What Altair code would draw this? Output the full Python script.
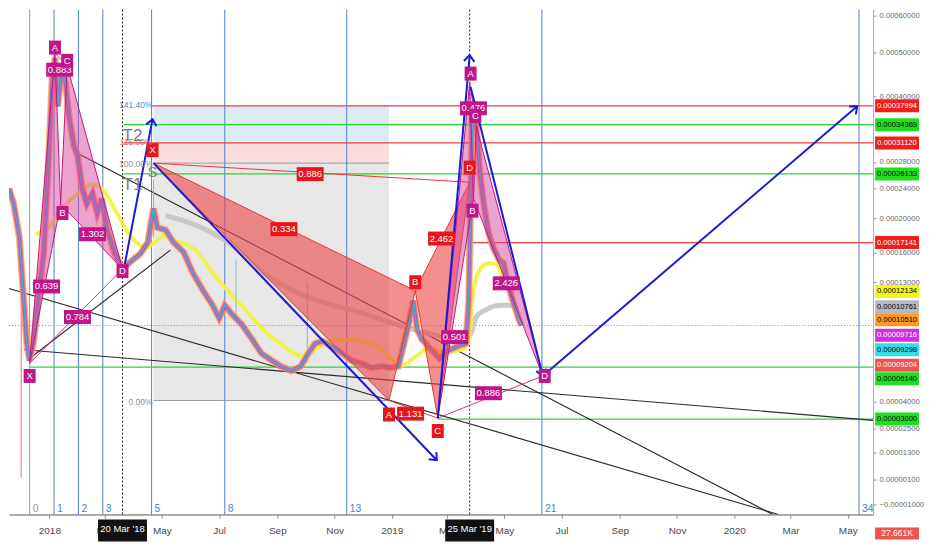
import altair as alt
import pandas as pd

W, H = 866, 506
FONT = "Liberation Sans"

# ---------------- price path (read from candles) ----------------
price_dates = ["2017-11-19","2017-11-24","2017-11-30","2017-12-04","2017-12-08","2017-12-11","2017-12-15","2017-12-20","2017-12-26","2017-12-31",
               "2018-01-04","2018-01-07","2018-01-10","2018-01-14","2018-01-18","2018-01-22","2018-01-27","2018-01-31","2018-02-05","2018-02-10",
               "2018-02-16","2018-02-21","2018-02-26","2018-03-03","2018-03-11","2018-03-20","2018-03-29","2018-04-08","2018-04-16","2018-04-22",
               "2018-04-26","2018-05-05","2018-05-13","2018-05-24","2018-06-03","2018-06-14","2018-06-24","2018-07-01","2018-07-07","2018-07-15",
               "2018-07-25","2018-08-05","2018-08-15","2018-08-26","2018-09-05","2018-09-16","2018-09-26","2018-10-04","2018-10-11","2018-10-19",
               "2018-10-29","2018-11-09","2018-11-19","2018-11-30","2018-12-10","2018-12-21","2018-12-31","2019-01-08","2019-01-14","2019-01-20",
               "2019-01-24","2019-01-28","2019-02-02","2019-02-11","2019-02-21","2019-03-02","2019-03-12","2019-03-21","2019-03-24","2019-03-26",
               "2019-03-28","2019-03-30","2019-04-02","2019-04-05","2019-04-09","2019-04-14","2019-04-19","2019-04-25","2019-04-30","2019-05-05",
               "2019-05-10","2019-05-16","2019-05-19"]
price_vals = [2.40e-4,2.19e-4,1.78e-4,1.22e-4,0.778e-4,0.66e-4,0.78e-4,1.13e-4,1.61e-4,2.75e-4,
              4.40e-4,4.86e-4,3.79e-4,4.51e-4,4.30e-4,3.60e-4,3.07e-4,2.91e-4,2.40e-4,2.19e-4,
              2.33e-4,2.07e-4,2.26e-4,1.89e-4,1.61e-4,1.43e-4,1.51e-4,1.59e-4,1.72e-4,2.13e-4,
              1.89e-4,1.86e-4,1.72e-4,1.61e-4,1.39e-4,1.22e-4,1.09e-4,0.98e-4,1.09e-4,1.01e-4,
              0.93e-4,0.815e-4,0.71e-4,0.66e-4,0.62e-4,0.59e-4,0.62e-4,0.71e-4,0.78e-4,0.80e-4,
              0.76e-4,0.71e-4,0.66e-4,0.64e-4,0.61e-4,0.62e-4,0.61e-4,0.62e-4,0.78e-4,0.967e-4,
              1.13e-4,0.889e-4,0.815e-4,0.743e-4,0.674e-4,0.73e-4,0.76e-4,0.78e-4,1.13e-4,2.19e-4,
              3.60e-4,3.89e-4,3.24e-4,2.61e-4,2.19e-4,1.83e-4,1.66e-4,1.53e-4,1.49e-4,1.27e-4,
              1.13e-4,0.98e-4,0.92e-4]

wick_dates = ["2017-12-02","2018-04-22","2018-07-19","2018-10-03"]
wick_high = [1.31e-4, 2.53e-4, 1.53e-4, 1.30e-4]
wick_low = [0.018e-4, 1.78e-4, 0.96e-4, 0.68e-4]
wick_color = ["#f06a6a", "#7fbfb0", "#7fbfb0", "#7fbfb0"]

# ---------------- moving averages ----------------
yellow_dates = ["2017-12-17","2017-12-31","2018-01-15","2018-01-31","2018-02-16","2018-02-26","2018-03-14","2018-03-29","2018-04-14","2018-04-24",
                "2018-05-05","2018-05-15","2018-06-05","2018-06-23","2018-07-07","2018-07-27","2018-08-17","2018-09-07","2018-09-25","2018-10-12",
                "2018-10-22","2018-11-09","2018-12-07","2018-12-26","2019-01-10","2019-01-28","2019-02-08","2019-03-01","2019-03-19","2019-03-25",
                "2019-03-28","2019-04-04","2019-04-14","2019-04-22","2019-04-28","2019-05-05"]
yellow_vals = [1.81e-4,1.89e-4,2.13e-4,2.33e-4,2.46e-4,2.40e-4,2.07e-4,1.78e-4,1.66e-4,1.72e-4,
               1.80e-4,1.74e-4,1.64e-4,1.41e-4,1.25e-4,1.07e-4,0.889e-4,0.765e-4,0.695e-4,0.743e-4,
               0.79e-4,0.815e-4,0.79e-4,0.708e-4,0.62e-4,0.695e-4,0.743e-4,0.72e-4,0.743e-4,0.837e-4,
               1.16e-4,1.41e-4,1.49e-4,1.48e-4,1.38e-4,1.22e-4]
gray_dates = ["2018-05-05","2018-06-16","2018-07-14","2018-08-14","2018-09-18","2018-10-22","2018-11-27","2018-12-31","2019-02-04","2019-03-14",
              "2019-03-25","2019-04-01","2019-04-11","2019-04-28","2019-05-13"]
gray_vals = [2.04e-4,1.87e-4,1.69e-4,1.41e-4,1.22e-4,1.11e-4,1.03e-4,0.943e-4,0.867e-4,0.815e-4,
             0.837e-4,0.99e-4,1.05e-4,1.09e-4,1.09e-4]

# ---------------- harmonic patterns (X, A, B, C, D) ----------------
p1_dates = ["2017-12-11","2018-01-07","2018-01-13","2018-01-20","2018-03-20"]
p1_vals = [0.641e-4, 4.98e-4, 2.19e-4, 4.67e-4, 1.43e-4]
p2_dates = ["2018-04-22","2018-12-29","2019-01-26","2019-02-19","2019-03-25"]
p2_vals = [2.78e-4, 0.405e-4, 1.22e-4, 0.305e-4, 2.49e-4]
p3_dates = ["2019-02-19","2019-03-25","2019-03-29","2019-04-01","2019-06-11"]
p3_vals = [0.305e-4, 4.30e-4, 2.26e-4, 3.41e-4, 0.556e-4]

p1_letters = ["X","A","B","C","D"]
p1_letter_dates = ["2017-12-11","2018-01-07","2018-01-15","2018-01-20","2018-03-20"]
p1_letter_vals = [0.556e-4, 5.12e-4, 2.07e-4, 4.79e-4, 1.41e-4]
p1_ratios = ["0.883","0.639","1.302","0.784"]
p1_ratio_dates = ["2018-01-12","2017-12-29","2018-02-16","2018-01-31"]
p1_ratio_vals = [4.58e-4, 1.26e-4, 1.81e-4, 0.99e-4]

p2_letters = ["X","A","B","C","D"]
p2_letter_dates = ["2018-04-21","2018-12-29","2019-01-26","2019-02-19","2019-03-25"]
p2_letter_vals = [2.99e-4, 0.325e-4, 1.30e-4, 0.237e-4, 2.71e-4]
p2_ratios = ["0.334","0.886","2.462","1.131"]
p2_ratio_dates = ["2018-09-08","2018-10-06","2019-02-23","2019-01-21"]
p2_ratio_vals = [1.87e-4, 2.61e-4, 1.76e-4, 0.33e-4]

p3_letters = ["A","B","C","D"]
p3_letter_dates = ["2019-03-26","2019-03-28","2019-03-31","2019-06-13"]
p3_letter_vals = [4.49e-4, 2.10e-4, 3.60e-4, 0.556e-4]
p3_ratios = ["0.476","2.426","0.501","0.886"]
p3_ratio_dates = ["2019-03-29","2019-05-03","2019-03-09","2019-04-14"]
p3_ratio_vals = [3.75e-4, 1.29e-4, 0.83e-4, 0.448e-4]

# ---------------- projection lines ----------------
blue_start_dates = ["2018-03-20","2018-04-22","2019-02-19","2019-03-26","2019-06-11"]
blue_start_vals = [1.36e-4, 2.78e-4, 0.305e-4, 4.19e-4, 0.556e-4]
blue_end_dates = ["2018-04-21","2019-02-18","2019-03-25","2019-06-11","2020-05-11"]
blue_end_vals = [3.54e-4, 0.095e-4, 4.93e-4, 0.556e-4, 3.79e-4]
arrow_angles = [10.8, 136.7, 4.9, 166.0, 49.1]

black_start_dates = ["2017-12-05","2017-11-19","2018-01-31","2017-12-08"]
black_start_vals = [0.736e-4, 1.24e-4, 2.94e-4, 0.66e-4]
black_end_dates = ["2020-05-28","2020-02-17","2020-02-11","2018-05-10"]
black_end_vals = [0.293e-4, -0.145e-4, -0.145e-4, 1.63e-4]

# ---------------- horizontal levels ----------------
level_vals = [0.00037994, 0.00034369, 0.00031120, 0.00026133, 0.00017141, 0.00006140, 0.00003000]
level_colors = ["#f23b3b", "#2bd42b", "#f23b3b", "#2bd42b", "#f23b3b", "#2bd42b", "#2bd42b"]
level_start = ["2018-04-21", "2018-03-21", "2018-03-21", "2018-03-21", "2019-03-25", "2017-12-11", "2019-02-19"]
last_price = 0.00009204

# fib retracement box
fib_start, fib_end = "2018-04-22", "2018-12-29"
fib_bands_lo = [0.0000405, 0.000278, 0.0003112]
fib_bands_hi = [0.000278, 0.0003112, 0.00037994]
fib_band_colors = ["#e3e3e3", "#f8d7d9", "#d5e8f5"]
fib_pct_text = ["141.40%", "115.00%", "100.00%", "0.00%"]
fib_pct_vals = [0.000381, 0.000312, 0.000277, 0.0000396]
fib_pct_colors = ["#4a8fc8", "#e07070", "#909090", "#909090"]

# fib time zones
fibt_dates = ["2017-12-11","2018-01-06","2018-02-01","2018-02-27","2018-04-20","2018-07-07","2018-11-14","2019-06-10","2020-05-13"]
fibt_nums = ["0","1","2","3","5","8","13","21","34"]

# right-axis price tags
tag_text = ["0.00037994","0.00034369","0.00031120","0.00026133","0.00017141","0.00012134","0.00010761",
            "0.00010510","0.00009716","0.00009298","0.00009204","0.00006140","0.00003000"]
tag_pos = [0.00037994, 0.00034369, 0.0003112, 0.00026133, 0.00017141, 0.00012134, 0.00010761,
           0.00009675, 0.00008447, 0.00007355, 0.00006268, 0.00005376, 0.00003]
tag_bg = ["#f21d1d","#1fe01f","#f21d1d","#1fe01f","#f21d1d","#f5f51e","#b8b8c0",
          "#ff9a1f","#d42ee0","#35dde8","#ef5350","#1fe01f","#1fe01f"]
tag_fg = ["white","black","white","black","white","black","black","black","white","black","white","black","black"]

y_ticks = [0.0006, 0.0005, 0.0004, 0.00028, 0.00024, 0.0002, 0.00016, 0.00013,
           0.00004, 0.000025, 0.000013, 0.000001, -0.00001]
x_ticks = ["2018-01-01","2018-03-01","2018-05-01","2018-07-01","2018-09-01","2018-11-01","2019-01-01","2019-03-01",
           "2019-05-01","2019-07-01","2019-09-01","2019-11-01","2020-01-01","2020-03-01","2020-05-01"]
date_marks = ["2018-03-20", "2019-03-25"]
date_mark_text = ["20 Mar '18", "25 Mar '19"]


def dt(s):
    y, m, d = map(int, s.split("-"))
    return alt.DateTime(year=y, month=m, date=d, utc=True)


xscale = alt.Scale(type="utc", domain=[dt("2017-11-19"), dt("2020-05-28")], nice=False)
yscale = alt.Scale(type="symlog", constant=0.0001, domain=[-0.0000145, 0.000617], nice=False, zero=False)
xaxis = alt.Axis(values=[dt(s) for s in x_ticks], title=None, grid=False,
                 labelExpr="utcFormat(datum.value, '%m') == '01' ? utcFormat(datum.value, '%Y') : utcFormat(datum.value, '%b')",
                 labelFont=FONT, labelFontSize=10, labelColor="#4a4a4a", tickColor="#999", tickSize=4,
                 domainColor="#555", labelPadding=7, labelOverlap=False)
yaxis = alt.Axis(orient="right", values=y_ticks, format=".8f", title=None, grid=False,
                 labelFont=FONT, labelFontSize=7.6, labelColor="#666", tickColor="#999", tickSize=3,
                 domainColor="#aaa", labelPadding=3, labelOverlap=False)


def xe(f="date"):
    return alt.X(f"{f}:T", scale=xscale, axis=xaxis)


def ye(f="price"):
    return alt.Y(f"{f}:Q", scale=yscale, axis=yaxis)


def seg_df(groups):
    rows = []
    for gid, dates, vals in groups:
        for i, (d, v) in enumerate(zip(dates, vals)):
            rows.append({"id": gid, "i": i, "date": d, "price": v})
    return pd.DataFrame(rows)


def pick(lst, idx):
    return [lst[k] for k in idx]


def box_shape(w, h):
    r = h / w
    return f"M-1,-{r:.3f}L1,-{r:.3f}L1,{r:.3f}L-1,{r:.3f}Z", w * w


layers = []

# fib box bands
bands = pd.DataFrame({"date": fib_start, "date2": fib_end, "price": fib_bands_lo, "price2": fib_bands_hi, "c": fib_band_colors})
layers.append(alt.Chart(bands).mark_rect(opacity=0.85).encode(
    x=xe(), x2="date2:T", y=ye(), y2="price2:Q", color=alt.Color("c:N", scale=None)))
fib_lines = pd.DataFrame({"date": fib_start, "date2": fib_end, "price": [0.000278, 0.0000405]})
layers.append(alt.Chart(fib_lines).mark_rule(color="#9a9a9a", strokeWidth=1).encode(x=xe(), x2="date2:T", y=ye()))

# fib time zones
fz = pd.DataFrame({"date": fibt_dates, "n": fibt_nums, "c": ["#9a9a9a"] + ["#4a7fd4"] * 8})
layers.append(alt.Chart(fz).mark_rule(strokeWidth=1).encode(x=xe(), color=alt.Color("c:N", scale=None)))
layers.append(alt.Chart(fz).mark_text(font=FONT, fontSize=10.5, align="left", dx=3, baseline="middle").encode(
    x=xe(), y=alt.value(H - 5), text="n:N", color=alt.Color("c:N", scale=None)))

# dotted date markers
layers.append(alt.Chart(pd.DataFrame({"date": date_marks})).mark_rule(color="#222", strokeDash=[2, 2], strokeWidth=1).encode(x=xe()))

# horizontal levels
lv = pd.DataFrame({"date": level_start, "date2": "2020-05-28", "price": level_vals, "c": level_colors})
layers.append(alt.Chart(lv).mark_rule(strokeWidth=1.3).encode(
    x=xe(), x2="date2:T", y=ye(), color=alt.Color("c:N", scale=None)))
layers.append(alt.Chart(pd.DataFrame({"date": ["2017-11-19"], "date2": ["2020-05-28"], "price": [last_price]}))
              .mark_rule(color="#e04848", strokeDash=[1, 2], strokeWidth=1, opacity=0.8)
              .encode(x=xe(), x2="date2:T", y=ye()))

# black trend lines
blk = seg_df([(k, [black_start_dates[k], black_end_dates[k]], [black_start_vals[k], black_end_vals[k]]) for k in range(4)])
layers.append(alt.Chart(blk).mark_line(color="#2a2a2a", strokeWidth=1.1, clip=True).encode(
    x=xe(), y=ye(), detail="id:N", order="i:Q"))

# moving averages
gdf = pd.DataFrame({"date": gray_dates, "price": gray_vals})
layers.append(alt.Chart(gdf).mark_line(color="#c4c4c4", strokeWidth=5, opacity=0.9, interpolate="monotone").encode(x=xe(), y=ye()))
ydf = pd.DataFrame({"date": yellow_dates, "price": yellow_vals})
layers.append(alt.Chart(ydf).mark_line(color="#f2f23a", strokeWidth=4, opacity=0.9, interpolate="monotone").encode(x=xe(), y=ye()))

# candle wicks
wk = pd.DataFrame({"date": wick_dates, "price": wick_high, "price2": wick_low, "c": wick_color})
layers.append(alt.Chart(wk).mark_rule(strokeWidth=1).encode(x=xe(), y=ye(), y2="price2:Q", color=alt.Color("c:N", scale=None)))

# price ribbon
pdf = pd.DataFrame({"date": price_dates, "price": price_vals})
for col, sw, op in [("#ff9f43", 7, 0.75), ("#f06292", 5, 0.8), ("#8e5cd9", 3, 0.85), ("#2ec4c4", 1.2, 0.95)]:
    layers.append(alt.Chart(pdf).mark_line(color=col, strokeWidth=sw, opacity=op, clip=True).encode(x=xe(), y=ye()))

# pattern polygons
def pattern_polys(tag, dates, vals):
    return [(tag + "xab", pick(dates, [0, 1, 2, 0]), pick(vals, [0, 1, 2, 0])),
            (tag + "bcd", pick(dates, [2, 3, 4, 2]), pick(vals, [2, 3, 4, 2]))]

def pattern_legs(tag, dates, vals):
    return [(tag + "xd", pick(dates, [0, 4]), pick(vals, [0, 4])),
            (tag + "ac", pick(dates, [1, 3]), pick(vals, [1, 3]))]

pink_poly = seg_df(pattern_polys("p1", p1_dates, p1_vals) + pattern_polys("p3", p3_dates, p3_vals))
red_poly = seg_df(pattern_polys("p2", p2_dates, p2_vals))
layers.append(alt.Chart(red_poly).mark_line(fill="#ee4a4a", fillOpacity=0.62, stroke="#e53935", strokeWidth=1).encode(
    x=xe(), y=ye(), detail="id:N", order="i:Q"))
layers.append(alt.Chart(pink_poly).mark_line(fill="#d8479c", fillOpacity=0.5, stroke="#c2187f", strokeWidth=1).encode(
    x=xe(), y=ye(), detail="id:N", order="i:Q"))
layers.append(alt.Chart(seg_df(pattern_legs("p2", p2_dates, p2_vals))).mark_line(color="#e53935", strokeWidth=1).encode(
    x=xe(), y=ye(), detail="id:N", order="i:Q"))
layers.append(alt.Chart(seg_df(pattern_legs("p1", p1_dates, p1_vals) + pattern_legs("p3", p3_dates, p3_vals)))
              .mark_line(color="#d0338f", strokeWidth=1).encode(x=xe(), y=ye(), detail="id:N", order="i:Q"))

# blue projection lines + arrow heads
bl = seg_df([(k, [blue_start_dates[k], blue_end_dates[k]], [blue_start_vals[k], blue_end_vals[k]]) for k in range(5)])
layers.append(alt.Chart(bl).mark_line(color="#1b1bd6", strokeWidth=2).encode(x=xe(), y=ye(), detail="id:N", order="i:Q"))
ah = pd.DataFrame({"date": blue_end_dates, "price": blue_end_vals, "ang": arrow_angles})
layers.append(alt.Chart(ah).mark_point(shape="M-1,1.2L0,0L1,1.2", size=110, filled=False, color="#1b1bd6", strokeWidth=2, opacity=1).encode(
    x=xe(), y=ye(), angle=alt.Angle("ang:Q", scale=None)))

# pattern labels
def label_layers(texts, dates, vals, bg, w):
    shape, size = box_shape(w, 14)
    d = pd.DataFrame({"date": dates, "price": vals, "t": texts})
    return [alt.Chart(d).mark_point(shape=shape, size=size, filled=True, color=bg, opacity=1, strokeWidth=0).encode(x=xe(), y=ye()),
            alt.Chart(d).mark_text(font=FONT, fontSize=9.5, color="white", baseline="middle").encode(x=xe(), y=ye(), text="t:N")]

PINK, RED = "#c0168a", "#e8161b"
layers += label_layers(p1_ratios, p1_ratio_dates, p1_ratio_vals, PINK, 27)
layers += label_layers(p1_letters, p1_letter_dates, p1_letter_vals, PINK, 12)
layers += label_layers(p2_ratios, p2_ratio_dates, p2_ratio_vals, RED, 27)
layers += label_layers(p2_letters, p2_letter_dates, p2_letter_vals, RED, 12)
layers += label_layers(p3_ratios, p3_ratio_dates, p3_ratio_vals, PINK, 27)
layers += label_layers(p3_letters, p3_letter_dates, p3_letter_vals, PINK, 12)

# fib box percentage labels and T1/T2/S
fp = pd.DataFrame({"date": fib_start, "price": fib_pct_vals, "t": fib_pct_text, "c": fib_pct_colors})
layers.append(alt.Chart(fp).mark_text(font=FONT, fontSize=8.5, align="right", dx=-1, baseline="middle").encode(
    x=xe(), y=ye(), text="t:N", color=alt.Color("c:N", scale=None)))
tt = pd.DataFrame({"date": ["2018-03-20", "2018-03-20"], "price": [3.24e-4, 2.45e-4], "t": ["T2", "T1"]})
layers.append(alt.Chart(tt).mark_text(font=FONT, fontSize=17, align="left", baseline="middle", color="#7a7a7a").encode(
    x=xe(), y=ye(), text="t:N"))
layers.append(alt.Chart(pd.DataFrame({"date": ["2018-04-21"], "price": [2.64e-4], "t": ["S"]}))
              .mark_text(font=FONT, fontSize=15, baseline="middle", color="#6f8f80").encode(x=xe(), y=ye(), text="t:N"))

# right-axis price tags
tg = pd.DataFrame({"price": tag_pos, "t": tag_text, "bg": tag_bg, "fg": tag_fg})
tshape, tsize = box_shape(44, 13)
layers.append(alt.Chart(tg).mark_point(shape=tshape, size=tsize, filled=True, opacity=1, strokeWidth=0).encode(
    x=alt.value(W + 24), y=ye(), color=alt.Color("bg:N", scale=None)))
layers.append(alt.Chart(tg).mark_text(font=FONT, fontSize=7.6, baseline="middle").encode(
    x=alt.value(W + 24), y=ye(), text="t:N", color=alt.Color("fg:N", scale=None)))

# volume tag
vshape, vsize = box_shape(44, 12)
vol = pd.DataFrame({"t": ["27.661K"]})
layers.append(alt.Chart(vol).mark_point(shape=vshape, size=vsize, filled=True, opacity=1, strokeWidth=0, color="#ef5350").encode(
    x=alt.value(W + 24), y=alt.value(H + 19)))
layers.append(alt.Chart(vol).mark_text(font=FONT, fontSize=8.5, color="white", baseline="middle").encode(
    x=alt.value(W + 24), y=alt.value(H + 19), text="t:N"))

# black date tags on x axis
dshape, dsize = box_shape(49, 22)
dm = pd.DataFrame({"date": date_marks, "t": date_mark_text})
layers.append(alt.Chart(dm).mark_point(shape=dshape, size=dsize, filled=True, opacity=1, strokeWidth=0, color="#111").encode(
    x=xe(), y=alt.value(H + 16)))
layers.append(alt.Chart(dm).mark_text(font=FONT, fontSize=9.5, color="white", baseline="middle").encode(
    x=xe(), y=alt.value(H + 15), text="t:N"))

chart = alt.layer(*layers).properties(
    width=W, height=H, padding={"left": 0, "top": 0, "right": 0, "bottom": 0}, background="white"
).configure_view(strokeWidth=0)

chart.save("out.html", embed_options={"renderer": "svg", "actions": False})
